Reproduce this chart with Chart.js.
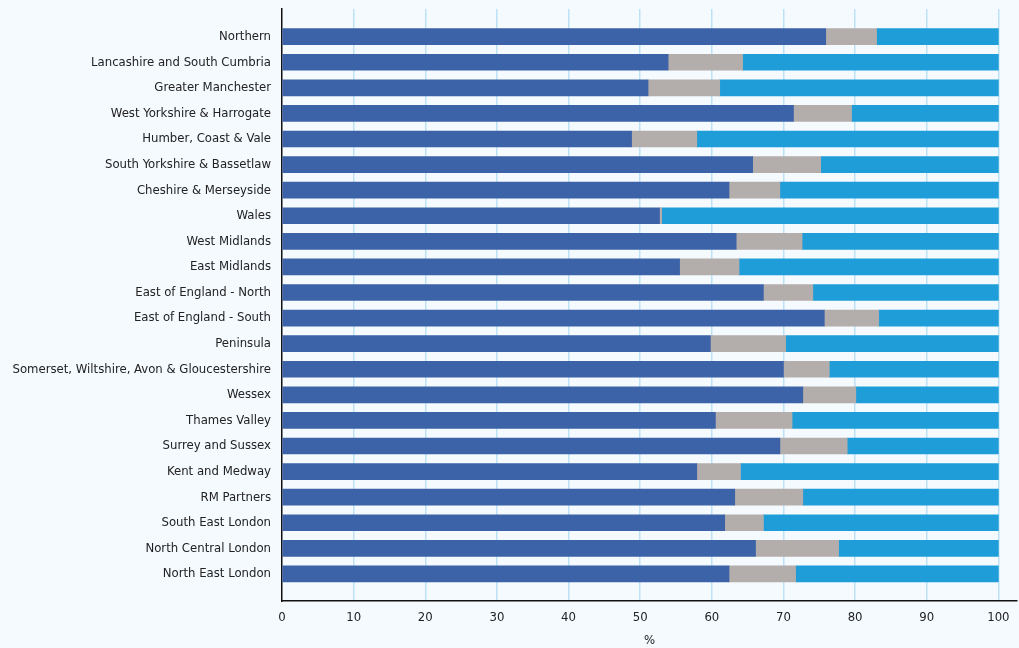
<!DOCTYPE html>
<html>
<head>
<meta charset="utf-8">
<script src="https://cdn.jsdelivr.net/npm/chart.js@4/dist/chart.umd.min.js"></script>
<style>
  html, body { margin: 0; padding: 0; background: #f5faff; }
  #wrap { width: 1019px; height: 648px; }
</style>
</head>
<body>
<div id="wrap"><canvas id="chart" width="1019" height="648"></canvas></div>
<script>
// ── DATA ──────────────────────────────────────────
const regions = [
  'Northern', 'Lancashire and South Cumbria', 'Greater Manchester',
  'West Yorkshire & Harrogate', 'Humber, Coast & Vale', 'South Yorkshire & Bassetlaw',
  'Cheshire & Merseyside', 'Wales', 'West Midlands', 'East Midlands',
  'East of England - North', 'East of England - South', 'Peninsula',
  'Somerset, Wiltshire, Avon & Gloucestershire', 'Wessex', 'Thames Valley',
  'Surrey and Sussex', 'Kent and Medway', 'RM Partners', 'South East London',
  'North Central London', 'North East London'
];
const darkVals  = [75.9, 53.9, 51.1, 71.4, 48.8, 65.7, 62.4, 52.7, 63.4, 55.5, 67.2,
                   75.7, 59.8, 70.0, 72.7, 60.5, 69.5, 57.9, 63.2, 61.8, 66.1, 62.4];
const greyVals  = [7.1, 10.4, 10.0, 8.1, 9.1, 9.5, 7.1, 0.3, 9.2, 8.3, 6.9,
                   7.6, 10.5, 6.4, 7.4, 10.7, 9.4, 6.1, 9.5, 5.4, 11.6, 9.3];
const lightVals = [17.0, 35.7, 38.9, 20.5, 42.1, 24.8, 30.5, 47.0, 27.4, 36.2, 25.9,
                   16.7, 29.7, 23.6, 19.9, 28.8, 21.1, 36.0, 27.3, 32.8, 22.3, 28.3];
const xTicks = [0, 10, 20, 30, 40, 50, 60, 70, 80, 90, 100];

// ── CHART ─────────────────────────────────────────
const toPts = arr => arr.map((v, i) => ({ x: v, y: i }));
const font = { family: "'DejaVu Sans Condensed', 'Liberation Sans Narrow', 'Open Sans', sans-serif", size: 13 };

new Chart(document.getElementById('chart'), {
  type: 'bar',
  data: {
    datasets: [
      { data: toPts(darkVals),  backgroundColor: '#3c62a8' },
      { data: toPts(greyVals),  backgroundColor: '#b3aeab' },
      { data: toPts(lightVals), backgroundColor: '#1e9dd8' }
    ]
  },
  options: {
    indexAxis: 'y',
    responsive: false,
    animation: false,
    barThickness: 16,
    layout: { padding: { top: 9, right: 2, left: 0, bottom: 0 } },
    plugins: { legend: { display: false }, tooltip: { enabled: false } },
    scales: {
      x: {
        type: 'linear',
        stacked: true,
        min: 0,
        max: 102.6,
        afterBuildTicks: s => { s.ticks = xTicks.map(v => ({ value: v })); },
        afterFit: s => { s.height = 47; s.paddingLeft = 0; s.paddingRight = 0; },
        grid: {
          drawTicks: false,
          color: c => c.tick && c.tick.value === 0 ? 'rgba(0,0,0,0)' : '#bde2f5',
          lineWidth: 1.5
        },
        border: { display: true, color: '#111', width: 1.5 },
        ticks: { color: '#222', font, padding: 9 },
        title: { display: true, text: '%', color: '#222', font, padding: { top: 0, bottom: 0 } }
      },
      y: {
        type: 'linear',
        stacked: true,
        reverse: true,
        offset: false,
        min: -1.08,
        max: 22.06,
        afterBuildTicks: s => { s.ticks = regions.map((_, i) => ({ value: i })); },
        afterFit: s => { s.width = 282; s.paddingTop = 0; s.paddingBottom = 0; },
        grid: { display: false, drawTicks: false },
        border: { display: true, color: '#111', width: 1.5 },
        ticks: {
          autoSkip: false,
          color: '#222',
          font,
          padding: 11,
          callback: v => regions[v]
        }
      }
    }
  }
});
</script>
</body>
</html>
